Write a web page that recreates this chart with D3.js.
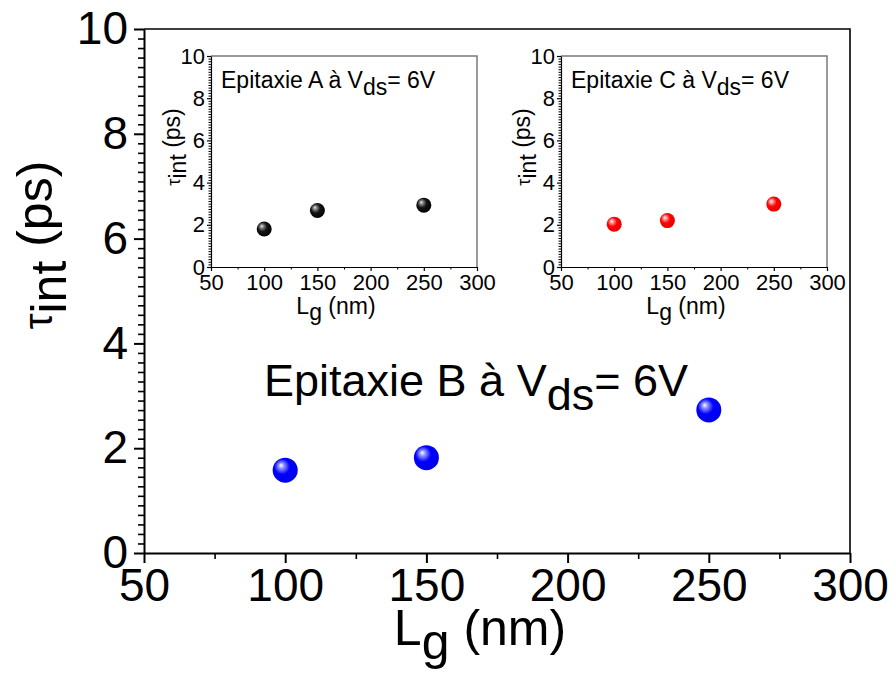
<!DOCTYPE html>
<html>
<head>
<meta charset="utf-8">
<script src="https://cdn.jsdelivr.net/npm/d3@7"></script>
<style>
  body { margin: 0; background: #fff; }
  svg { display: block; }
  text { font-family: "Liberation Sans", Arial, sans-serif; fill: #000; }
</style>
</head>
<body>
<svg id="chart" width="896" height="679"></svg>
<script>
// Gate length (nm) and intrinsic delay tau_int (ps) for three epitaxies at Vds = 6 V
const gateLengths = [100, 150, 250];
const tauEpiB = [1.58, 1.82, 2.73];
const tauEpiA = [1.80, 2.68, 2.93];
const tauEpiC = [2.03, 2.20, 2.98];

const xTickValues = [50, 100, 150, 200, 250, 300];
const yTickValues = [0, 2, 4, 6, 8, 10];
const xDomain = [50, 300];
const yDomain = [0, 10];

const svg = d3.select("#chart");
const defs = svg.append("defs");

// shaded sphere markers
function sphereGradient(id, highlight, mid, body, edge) {
  const g = defs.append("radialGradient")
    .attr("id", id).attr("cx", "0.42").attr("cy", "0.42").attr("r", "0.62")
    .attr("fx", "0.33").attr("fy", "0.3");
  g.append("stop").attr("offset", "0").attr("stop-color", highlight);
  g.append("stop").attr("offset", "0.18").attr("stop-color", mid);
  g.append("stop").attr("offset", "0.5").attr("stop-color", body);
  g.append("stop").attr("offset", "1").attr("stop-color", edge);
}
sphereGradient("ballBlue", "#ffffff", "#8f95ff", "#0000ff", "#0000e6");
sphereGradient("ballBlack", "#f4f4f4", "#8a8a8a", "#141414", "#000000");
sphereGradient("ballRed", "#ffffff", "#ff9a9a", "#ff0000", "#e60000");

function drawPanel(o) {
  const x = d3.scaleLinear().domain(xDomain).range([o.left, o.right]);
  const y = d3.scaleLinear().domain(yDomain).range([o.bottom, o.top]);
  const g = svg.append("g");

  // frame (top / right)
  g.append("path")
    .attr("d", `M${o.left},${o.top}H${o.right}V${o.bottom}`)
    .attr("fill", "none").attr("stroke", o.frameColor).attr("stroke-width", o.frameWidth);

  // x minor ticks
  const xMinor = d3.range(xDomain[0] + 25, xDomain[1], 50);
  g.append("g").attr("transform", `translate(0,${o.bottom})`)
    .call(d3.axisBottom(x).tickValues(xMinor).tickSize(o.minorLen).tickFormat("").tickSizeOuter(0))
    .call(a => a.select(".domain").remove())
    .call(a => a.selectAll("line").attr("stroke", "#000").attr("stroke-width", o.tickWidth));

  // y minor ticks
  const yMinor = [];
  for (let i = 0; i < yTickValues.length - 1; i++) {
    for (let k = 1; k <= o.yMinorCount; k++) {
      yMinor.push(yTickValues[i] + (yTickValues[i + 1] - yTickValues[i]) * k / (o.yMinorCount + 1));
    }
  }
  g.append("g").attr("transform", `translate(${o.left},0)`)
    .call(d3.axisLeft(y).tickValues(yMinor).tickSize(o.minorLen).tickFormat("").tickSizeOuter(0))
    .call(a => a.select(".domain").remove())
    .call(a => a.selectAll("line").attr("stroke", "#000").attr("stroke-width", o.tickWidth));

  // x major axis
  g.append("g").attr("transform", `translate(0,${o.bottom})`)
    .call(d3.axisBottom(x).tickValues(xTickValues).tickSize(o.majorLen).tickPadding(o.xPad).tickSizeOuter(0))
    .call(a => a.select(".domain").attr("stroke", "#000").attr("stroke-width", o.axisWidth))
    .call(a => a.selectAll("line").attr("stroke", "#000").attr("stroke-width", o.axisWidth))
    .call(a => a.selectAll("text").attr("font-size", o.tickFont)
      .attr("font-family", '"Liberation Sans", Arial, sans-serif').attr("fill", "#000"));

  // y major axis
  g.append("g").attr("transform", `translate(${o.left},0)`)
    .call(d3.axisLeft(y).tickValues(yTickValues).tickSize(o.majorLen).tickPadding(o.yPad).tickSizeOuter(0))
    .call(a => a.select(".domain").attr("stroke", "#000").attr("stroke-width", o.axisWidth))
    .call(a => a.selectAll("line").attr("stroke", "#000").attr("stroke-width", o.axisWidth))
    .call(a => a.selectAll("text").attr("font-size", o.tickFont)
      .attr("font-family", '"Liberation Sans", Arial, sans-serif').attr("fill", "#000"));

  // axis titles
  const xt = g.append("text").attr("x", o.xTitleX).attr("y", o.xTitleY)
    .attr("text-anchor", "middle").attr("font-size", o.titleFont);
  xt.append("tspan").text("L");
  xt.append("tspan").attr("dy", "0.28em").text("g");
  xt.append("tspan").attr("dy", "-0.28em").text(" (nm)");

  const yt = g.append("text")
    .attr("transform", `translate(${o.yTitleX},${o.yTitleY}) rotate(-90)`)
    .attr("text-anchor", "middle").attr("font-size", o.titleFont);
  yt.append("tspan").attr("font-size", "0.8em").text("τ");
  yt.append("tspan").attr("dy", "0.28em").text("int");
  yt.append("tspan").attr("dy", "-0.28em").text(" (ps)");

  // annotation
  const an = g.append("text").attr("x", o.noteX).attr("y", o.noteY).attr("font-size", o.noteFont);
  an.append("tspan").text(o.note);
  an.append("tspan").attr("dy", "0.3em").text("ds");
  an.append("tspan").attr("dy", "-0.3em").text("= 6V");

  // data points
  g.selectAll("circle.pt").data(gateLengths.map((d, i) => [d, o.values[i]]))
    .join("circle").attr("class", "pt")
    .attr("cx", d => x(d[0])).attr("cy", d => y(d[1]))
    .attr("r", o.radius).attr("fill", `url(#${o.ball})`);
}

// main panel: epitaxy B
drawPanel({
  left: 144, right: 850, top: 29, bottom: 553,
  frameColor: "#000", frameWidth: 1.6, axisWidth: 2, tickWidth: 1.6,
  majorLen: 10, minorLen: 6, yMinorCount: 10,
  xPad: 5, yPad: 6, tickFont: 46, titleFont: 50,
  xTitleX: 480, xTitleY: 645, yTitleX: 52, yTitleY: 245,
  note: "Epitaxie B à V", noteX: 264, noteY: 396, noteFont: 45,
  values: tauEpiB, ball: "ballBlue", radius: 12.5
});

// inset: epitaxy A
drawPanel({
  left: 211, right: 477, top: 56, bottom: 267,
  frameColor: "#7a7a7a", frameWidth: 1.5, axisWidth: 1.2, tickWidth: 1,
  majorLen: 4, minorLen: 2.5, yMinorCount: 15,
  xPad: 3, yPad: 2, tickFont: 22, titleFont: 23,
  xTitleX: 336, xTitleY: 314, yTitleX: 180, yTitleY: 147,
  note: "Epitaxie A à V", noteX: 221, noteY: 88, noteFont: 23,
  values: tauEpiA, ball: "ballBlack", radius: 7.5
});

// inset: epitaxy C
drawPanel({
  left: 561, right: 827, top: 56, bottom: 267,
  frameColor: "#7a7a7a", frameWidth: 1.5, axisWidth: 1.2, tickWidth: 1,
  majorLen: 4, minorLen: 2.5, yMinorCount: 15,
  xPad: 3, yPad: 2, tickFont: 22, titleFont: 23,
  xTitleX: 686, xTitleY: 314, yTitleX: 530, yTitleY: 147,
  note: "Epitaxie C à V", noteX: 571, noteY: 88, noteFont: 23,
  values: tauEpiC, ball: "ballRed", radius: 7.5
});
</script>
</body>
</html>
